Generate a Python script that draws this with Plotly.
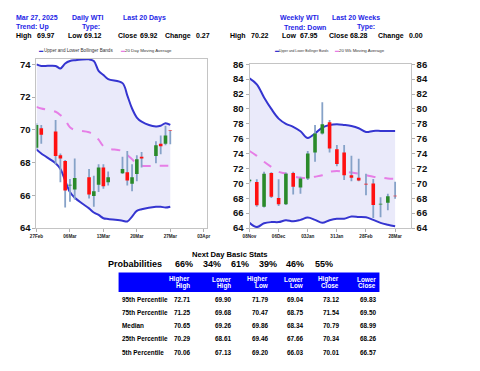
import plotly.graph_objects as go

F = "Liberation Sans"
W, H = 480, 371

# ---------------- Daily data ----------------
d_dates = ['2025-02-27', '2025-02-28', '2025-03-03', '2025-03-04', '2025-03-05', '2025-03-06', '2025-03-07',
           '2025-03-10', '2025-03-11', '2025-03-12', '2025-03-13', '2025-03-14',
           '2025-03-17', '2025-03-18', '2025-03-19', '2025-03-20', '2025-03-21',
           '2025-03-24', '2025-03-25', '2025-03-26', '2025-03-27']
d_open = [68.9, 70.1, 69.9, 68.45, 68.1, 66.6, 66.35, 67.1, 65.95, 66.65, 67.7, 66.8,
          67.35, 67.4, 66.7, 67.3, 68.35, 68.4, 69.15, 69.15, 69.95]
d_high = [70.4, 70.3, 70.6, 68.55, 68.15, 67.0, 68.25, 67.6, 67.2, 67.9, 67.9, 67.45,
          68.35, 68.7, 67.9, 68.45, 68.65, 69.3, 69.65, 70.25, 69.97]
d_low = [68.8, 69.15, 67.9, 66.8, 65.25, 65.6, 65.75, 65.8, 65.3, 66.2, 66.4, 66.6,
         67.3, 66.6, 66.25, 66.85, 67.7, 67.95, 68.5, 69.05, 69.12]
d_close = [70.3, 69.7, 68.4, 68.25, 66.3, 66.65, 67.05, 66.05, 66.25, 67.7, 66.55, 67.1,
           67.6, 66.9, 67.1, 68.2, 68.25, 69.05, 69.0, 69.65, 69.92]
d_upper = [74.0, 73.9, 73.9, 73.75, 74.05, 74.2, 74.25, 74.3, 74.2, 73.6, 73.35, 73.1,
           72.85, 72.1, 71.3, 70.75, 70.5, 70.2, 70.25, 70.4, 70.3]
d_lower = [68.8, 68.55, 67.95, 67.6, 66.9, 66.2, 65.85, 65.2, 64.95, 64.8, 64.6, 64.55,
           64.45, 64.4, 64.7, 65.05, 65.15, 65.3, 65.3, 65.25, 65.3]
d_ma = [71.4, 71.3, 71.1, 70.9, 70.6, 70.15, 70.0, 69.85, 69.7, 69.4, 69.0, 68.85,
        68.7, 68.45, 68.2, 67.9, 67.8, 67.8, 67.8, 67.8, 67.8]
d_tickvals = ['2025-02-27', '2025-03-06', '2025-03-13', '2025-03-20', '2025-03-27', '2025-04-03']
d_ticktext = ['27Feb', '06Mar', '13Mar', '20Mar', '27Mar', '03Apr']

# ---------------- Weekly data ----------------
w_dates = ['2024-11-08', '2024-11-15', '2024-11-22', '2024-11-29', '2024-12-06', '2024-12-13',
           '2024-12-20', '2024-12-27', '2025-01-03', '2025-01-10', '2025-01-17', '2025-01-24',
           '2025-01-31', '2025-02-07', '2025-02-14', '2025-02-21', '2025-02-28', '2025-03-07',
           '2025-03-14', '2025-03-21', '2025-03-28']
w_open = [70.3, 70.2, 66.85, 71.4, 68.05, 67.2, 71.4, 69.45, 70.65, 74.15, 76.7, 78.2,
          74.6, 74.15, 71.1, 70.75, 69.95, 70.0, 67.15, 67.4, 68.35]
w_high = [70.6, 70.55, 71.55, 71.5, 70.55, 71.45, 71.55, 70.9, 74.35, 77.85, 80.9, 78.5,
          75.15, 75.15, 73.7, 73.3, 71.3, 70.6, 68.15, 68.6, 70.22]
w_low = [70.1, 66.85, 66.75, 68.05, 66.95, 67.1, 68.5, 68.6, 70.45, 72.9, 76.55, 74.15,
         72.3, 70.45, 70.3, 70.3, 68.4, 65.35, 65.45, 66.4, 67.95]
w_close = [70.5, 67.05, 71.3, 68.2, 67.2, 71.3, 69.55, 70.65, 74.0, 76.7, 77.95, 74.7,
           72.6, 71.1, 70.75, 70.4, 69.85, 67.1, 67.25, 68.28, 68.28]
w_upper = [84.1, 83.3, 81.55, 80.0, 78.7, 78.0, 77.6, 77.0, 76.1, 76.7, 77.5, 77.85,
           77.95, 77.85, 77.7, 77.4, 76.9, 77.05, 77.05, 77.05, 77.05]
w_lower = [64.7, 64.13, 64.65, 64.8, 64.8, 65.05, 64.9, 65.1, 65.4, 65.1, 64.7, 65.05,
           65.25, 65.25, 65.55, 65.5, 65.45, 65.1, 64.7, 64.45, 64.25]
w_ma = [74.35, 73.7, 72.9, 72.2, 71.55, 71.3, 70.95, 70.75, 70.75, 70.9, 71.1, 71.55,
        71.65, 71.55, 71.45, 71.3, 71.1, 70.9, 70.8, 70.65, 70.6]
w_tickvals = ['2024-11-08', '2024-12-06', '2025-01-03', '2025-01-31', '2025-02-28', '2025-03-28']
w_ticktext = ['08Nov', '06Dec', '03Jan', '31Jan', '28Feb', '28Mar']

# ---------------- Header / stats ----------------
d_header = ['Mar 27, 2025', 'Daily WTI', 'Last 20 Days']
d_header2 = ['Trend: Up', 'Type:']
d_stat_labels = ['High', 'Low', 'Close', 'Change']
d_stat_values = ['69.97', '69.12', '69.92', '0.27']
w_header = ['Weekly WTI', 'Last 20 Weeks']
w_header2 = ['Trend: Down', 'Type:']
w_stat_values = ['70.22', '67.95', '68.28', '0.00']

prob_values = ['66%', '34%', '61%', '39%', '46%', '55%']
table_cols = ['Higher High', 'Lower High', 'Higher Low', 'Lower Low', 'Higher Close', 'Lower Close']
table_rows = ['95th Percentile', '75th Percentile', 'Median', '25th Percentile', '5th Percentile']
table_vals = [
    ['72.71', '69.90', '71.79', '69.04', '73.12', '69.83'],
    ['71.25', '69.68', '70.47', '68.75', '71.54', '69.50'],
    ['70.65', '69.26', '69.86', '68.34', '70.79', '68.99'],
    ['70.29', '68.61', '69.46', '67.66', '70.34', '68.26'],
    ['70.06', '67.13', '69.20', '66.03', '70.01', '66.57'],
]

BLUE = '#3535d0'
FILL = 'rgba(234,234,250,1)'
MA_C = '#e67ee6'
WICK = '#86a2c8'
UP = '#2a8a2a'
DN = '#ff1010'
HDR = '#1e1ee6'


def px(x):
    return x / W


def py(y):
    return 1 - y / H


fig = go.Figure()


def add_chart(dates, o, h, l, c, up, lo, ma, xa, ya, body_w):
    fig.add_trace(go.Scatter(x=dates, y=lo, mode='lines', line=dict(color=BLUE, width=2, shape='spline'),
                             xaxis=xa, yaxis=ya, showlegend=False, hoverinfo='skip'))
    fig.add_trace(go.Scatter(x=dates, y=up, mode='lines', line=dict(color=BLUE, width=2, shape='spline'),
                             fill='tonexty', fillcolor=FILL,
                             xaxis=xa, yaxis=ya, showlegend=False, hoverinfo='skip'))
    fig.add_trace(go.Scatter(x=dates, y=ma, mode='lines',
                             line=dict(color=MA_C, width=2, dash='dash', shape='spline'),
                             xaxis=xa, yaxis=ya, showlegend=False, hoverinfo='skip'))
    # wicks
    wx, wy = [], []
    for d, hi, lw in zip(dates, h, l):
        wx += [d, d, None]
        wy += [lw, hi, None]
    fig.add_trace(go.Scatter(x=wx, y=wy, mode='lines', line=dict(color=WICK, width=1.8),
                             xaxis=xa, yaxis=ya, showlegend=False, hoverinfo='skip'))
    # bodies: rising and falling as thick segments from open to close
    for rising, col in [(True, UP), (False, DN)]:
        bx, by = [], []
        for d, a, b in zip(dates, o, c):
            if (b >= a) == rising:
                bx += [d, d, None]
                by += [a, b, None]
        fig.add_trace(go.Scatter(x=bx, y=by, mode='lines', line=dict(color=col, width=body_w),
                                 xaxis=xa, yaxis=ya, showlegend=False, hoverinfo='skip'))


add_chart(d_dates, d_open, d_high, d_low, d_close, d_upper, d_lower, d_ma, 'x', 'y', 3.6)
add_chart(w_dates, w_open, w_high, w_low, w_close, w_upper, w_lower, w_ma, 'x2', 'y2', 3.6)
# invisible trace to carry the mirrored right axis of the weekly chart
fig.add_trace(go.Scatter(x=[w_dates[0]], y=[w_close[0]], mode='markers', marker=dict(opacity=0),
                         xaxis='x2', yaxis='y3', showlegend=False, hoverinfo='skip'))

axis_common = dict(showline=True, linecolor='#c4c4c4', linewidth=1, mirror=True, showgrid=False,
                   zeroline=False, ticks='outside', tickcolor='#b0b0b0', ticklen=3)
xfont = dict(family=F, size=4.6, color='#222', weight='bold')
yfont = dict(family=F, size=9.5, color='#111', weight='bold')

fig.update_layout(
    width=W, height=H, margin=dict(l=0, r=0, t=0, b=0),
    paper_bgcolor='white', plot_bgcolor='white',
    xaxis=dict(domain=[px(22), px(196)], anchor='y', type='date',
               range=['2025-02-27', '2025-04-03 14:00'], tickvals=d_tickvals, ticktext=d_ticktext,
               tickfont=xfont, **axis_common),
    yaxis=dict(domain=[py(221), py(47)], anchor='x', range=[64, 74.34], dtick=2, tick0=64,
               tickfont=yfont, **axis_common),
    xaxis2=dict(domain=[px(240), px(405)], anchor='y2', type='date',
                range=['2024-11-08', '2025-04-12'], tickvals=w_tickvals, ticktext=w_ticktext,
                tickfont=xfont, **axis_common),
    yaxis2=dict(domain=[py(221), py(52)], anchor='x2', range=[64, 86.09], dtick=2, tick0=64,
                tickfont=yfont, **axis_common),
    yaxis3=dict(overlaying='y2', side='right', anchor='x2', range=[64, 86.09], dtick=2, tick0=64,
                tickfont=yfont, showgrid=False, zeroline=False, ticks='outside', tickcolor='#b0b0b0',
                ticklen=3, showline=False),
)

ann = []


def txt(x, y, s, size, color='black', anchor='left', weight='bold'):
    ann.append(dict(x=px(x), y=py(y), xref='paper', yref='paper', text=s, showarrow=False,
                    xanchor=anchor, yanchor='middle', borderpad=0,
                    font=dict(family=F, size=size, color=color, weight=weight)))


HS = 7.0
# header rows
for s, x in zip(d_header, [0, 57, 109]):
    txt(x, 5, s, HS, HDR)
for s, x in zip(d_header2, [0, 68]):
    txt(x, 14.5, s, HS, HDR)
for s, x in zip(w_header, [270, 323]):
    txt(x, 5, s, HS, HDR)
for s, x in zip(w_header2, [274, 349]):
    txt(x, 14.5, s, HS, HDR)
for s, x in zip(d_stat_labels, [0, 53, 104, 153]):
    txt(x, 23.5, s, HS)
for s, x in zip(d_stat_values, [21, 70, 127, 184]):
    txt(x, 23.5, s, HS)
for s, x in zip(d_stat_labels, [219, 272, 320, 370]):
    txt(x, 23.5, s, HS)
for s, x in zip(w_stat_values, [240, 291, 342, 402]):
    txt(x, 23.5, s, HS)

# legends
for mx, tx, t, c, fs in [(24, 28.5, 'Upper and Lower Bollinger Bands', BLUE, 4.6),
                         (107, 111.5, '20 Day Moving Average', MA_C, 4.4),
                         (265, 269.5, 'Upper and Lower Bollinger Bands', BLUE, 3.3),
                         (326, 330.5, '20 Wk Moving Average', MA_C, 4.4)]:
    txt(mx, 39, '▬', 4.2, c)
    txt(tx, 39, t, fs, '#333', weight='normal')

# stats block
txt(220, 248, 'Next Day Basic Stats', 7.6, anchor='center')
txt(151, 258, 'Probabilities', 9, anchor='right')
for s, x in zip(prob_values, [183, 212, 241, 269, 297, 326]):
    txt(x, 258, s, 9, anchor='right')

col_ends = [180, 222, 260, 296, 333, 370]
for name, x in zip(table_cols, col_ends):
    a, b = name.split(' ')
    txt(x, 273.5, a, 6.4, 'white', anchor='right')
    txt(x, 280.5, b, 6.4, 'white', anchor='right')
row_y = [294, 307.7, 321.3, 335, 348.7]
for r, yv, vals in zip(table_rows, row_y, table_vals):
    txt(108.7, yv, r, 6.4)
    for v, x in zip(vals, col_ends):
        txt(x, yv, v, 6.4, anchor='right')

fig.update_layout(annotations=ann, shapes=[
    dict(type='rect', xref='paper', yref='paper', x0=px(106), x1=px(373), y0=py(286.7), y1=py(266.7),
         fillcolor='#0000ff', line=dict(width=0), layer='below')
])

fig.write_html("out.html")
